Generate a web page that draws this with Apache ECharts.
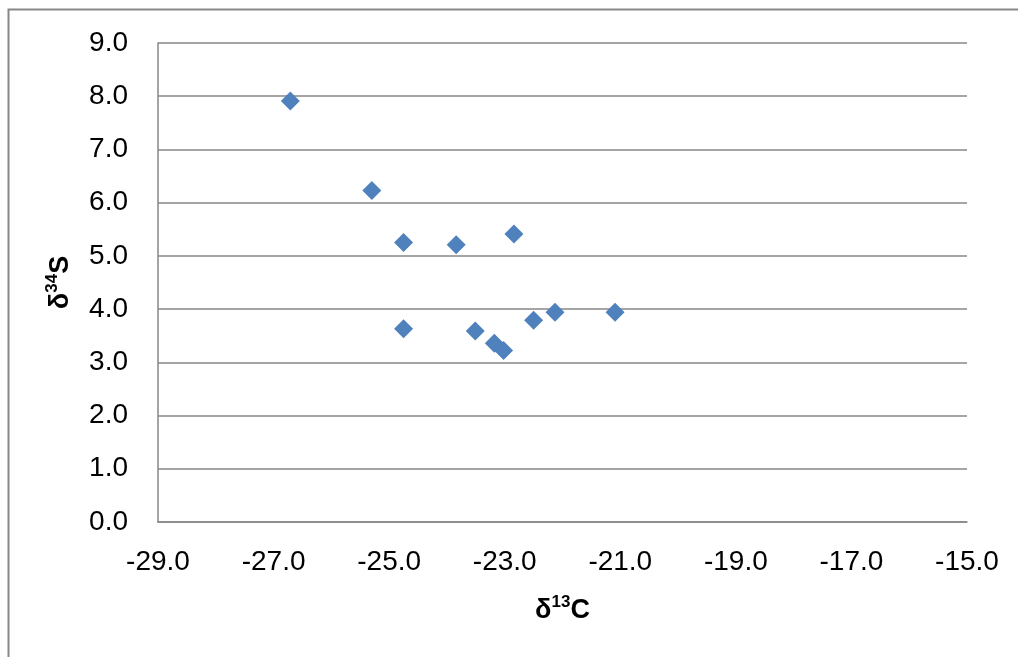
<!DOCTYPE html>
<html lang="en">
<head>
    <meta charset="UTF-8">
    <title>δ13C vs δ34S</title>
    <script src="https://cdn.jsdelivr.net/npm/echarts@6/dist/echarts.min.js"></script>
    <style>
        body { margin: 0; background: #fff; }
        #chart { width: 1018px; height: 657px; }
    </style>
</head>
<body>
    <div id="chart"></div>
    <script>
        // delta 13C (x) and delta 34S (y)
        const d13C = [-26.71, -25.30, -24.75, -23.84, -22.84, -24.75, -23.51, -23.18, -23.02, -22.50, -22.13, -21.09];
        const d34S = [7.91, 6.23, 5.25, 5.21, 5.41, 3.63, 3.59, 3.36, 3.22, 3.79, 3.94, 3.94];

        const points = d13C.map((x, i) => [x, d34S[i]]);

        const chart = echarts.init(document.getElementById('chart'));
        const lineGray = '#878787';
        const labelFont = { fontFamily: 'Liberation Sans, Arial, sans-serif', fontSize: 28, color: '#000' };

        chart.setOption({
            animation: false,
            graphic: [{
                type: 'rect',
                shape: { x: 8.5, y: 9.5, width: 1200, height: 1000 },
                style: { fill: 'none', stroke: lineGray, lineWidth: 2 }
            }],
            grid: { left: 158, right: 51, top: 43, bottom: 135, containLabel: false },
            xAxis: {
                type: 'value',
                min: -29, max: -15, interval: 2,
                name: '{a|δ}{s|13}{a|C}',
                nameLocation: 'middle',
                nameGap: 72,
                nameTextStyle: {
                    rich: {
                        a: { fontFamily: 'Liberation Sans, Arial', fontWeight: 'bold', fontSize: 27, color: '#000', lineHeight: 30, verticalAlign: 'bottom' },
                        s: { fontFamily: 'Liberation Sans, Arial', fontWeight: 'bold', fontSize: 17, color: '#000', lineHeight: 30, verticalAlign: 'top' }
                    }
                },
                axisLine: { show: true, lineStyle: { color: lineGray, width: 1.5 } },
                axisTick: { show: false },
                splitLine: { show: false },
                axisLabel: Object.assign({ margin: 26, formatter: v => v.toFixed(1) }, labelFont)
            },
            yAxis: {
                type: 'value',
                min: 0, max: 9, interval: 1,
                name: '{a|δ}{s|34}{a|S}',
                nameLocation: 'middle',
                nameGap: 84,
                nameRotate: 90,
                nameTextStyle: {
                    rich: {
                        a: { fontFamily: 'Liberation Sans, Arial', fontWeight: 'bold', fontSize: 27, color: '#000', lineHeight: 30, verticalAlign: 'bottom' },
                        s: { fontFamily: 'Liberation Sans, Arial', fontWeight: 'bold', fontSize: 17, color: '#000', lineHeight: 30, verticalAlign: 'top' }
                    }
                },
                axisLine: { show: true, lineStyle: { color: lineGray, width: 1.5 } },
                axisTick: { show: false },
                splitLine: { show: true, lineStyle: { color: lineGray, width: 1.5 } },
                axisLabel: Object.assign({ margin: 30, formatter: v => v.toFixed(1) }, labelFont)
            },
            series: [{
                type: 'scatter',
                data: points,
                symbol: 'diamond',
                symbolSize: 19,
                itemStyle: { color: '#4F81BD', opacity: 1 }
            }]
        });
    </script>
</body>
</html>
